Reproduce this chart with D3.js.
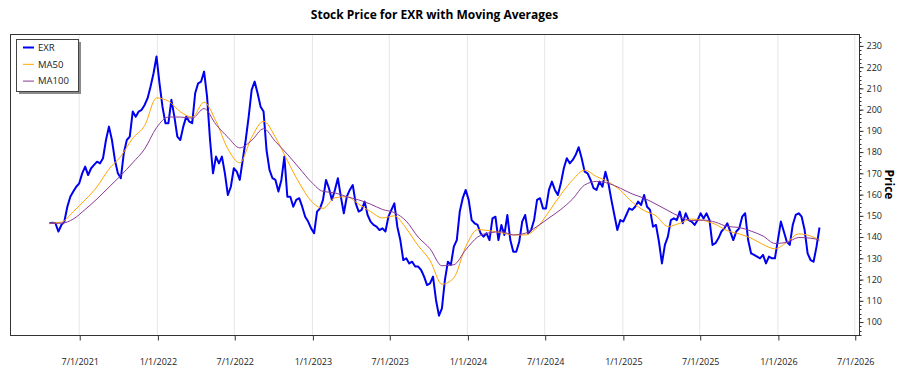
<!DOCTYPE html>
<html>
<head>
<meta charset="utf-8">
<script src="https://cdn.jsdelivr.net/npm/d3@7"></script>
<style>
  body { margin: 0; background: #fff; }
  svg text { font-family: "Open Sans", "Noto Sans", sans-serif; }
</style>
</head>
<body>
<div id="chart"></div>
<script>
// --- data ---
const ticker = 'EXR';
const seriesNames = ['EXR', 'MA50', 'MA100'];
const firstWeek = '2021-04-22';   // weekly closes start here

const closeWeekly = [
  146.5, 146.8, 146.5, 142.6, 145.7, 147.3, 154.3, 159, 161.4, 163.7,
  165.3, 170, 173.2, 169.2, 172.4, 174, 175.5, 174.7, 177.1, 185.7,
  192, 185.7, 176.3, 170, 167.7, 179.5, 185.7, 187.3, 199.1, 196.7,
  199.1, 199.9, 202.2, 205.4, 210.9, 217.1, 225, 212.4, 201.4, 193.6,
  193.6, 204.6, 196.7, 187.3, 185.7, 192, 196.7, 194.4, 193.6, 207.7,
  212.4, 213.2, 217.9, 206.1, 185.7, 170, 177.9, 174.7, 177.9, 170,
  159.8, 163.7, 172.4, 170.8, 166.9, 176.3, 185.7, 196.7, 209.3, 213.2,
  207.7, 201.4, 199.1, 181, 171.6, 167.7, 166.9, 161.4, 166.9, 177.9,
  159, 159, 154.3, 157.5, 158.3, 154.3, 149.6, 147.3, 144.1, 141.8,
  152, 153.5, 157.5, 166.9, 163, 157.5, 162.2, 167.7, 159, 151.2,
  159, 162.2, 164.5, 155.9, 152, 152.8, 156.7, 150.4, 147.3, 145.7,
  144.9, 143.3, 144.1, 142.6, 149.6, 152.8, 155.9, 144.9, 138.6, 129.2,
  130, 127.6, 128.4, 126.1, 126.1, 124.5, 121.4, 117.4, 118.2, 121.4,
  110.4, 103, 106.4, 119.8, 128.4, 126.9, 135.5, 138.6, 152, 158.3,
  162.2, 157.5, 148, 146.5, 145.7, 141.8, 140.2, 141.8, 138.6, 148.8,
  149.6, 138.6, 145.7, 141, 150.4, 138.6, 133.1, 133.1, 137.8, 147.3,
  150.4, 141.8, 143.3, 148, 157.5, 158.3, 153.5, 153.5, 162.2, 166.1,
  162.2, 159.8, 165.3, 172.4, 177.1, 174.7, 176.3, 178.7, 182.3, 177.1,
  170.8, 170, 166.9, 163, 162.2, 166.1, 163.7, 170.8, 165.3, 157.5,
  150.4, 143.3, 148, 147.3, 150.4, 153.5, 152.8, 154.3, 156.7, 155.1,
  159.8, 154.3, 152.8, 144.9, 145.7, 137.8, 127.6, 136.3, 140.2, 148,
  148.8, 148, 152, 146.5, 151.2, 148, 147.3, 145.7, 148, 151.2,
  148.8, 151.2, 148, 136.3, 137.1, 139.4, 142.6, 144.1, 146.5, 142.6,
  138.6, 142.6, 144.1, 149.6, 151.2, 138.6, 132.3, 131.6, 130.8, 130,
  131.6, 127.6, 130.8, 130, 130, 138.6, 147.3, 142.6, 137.8, 136.3,
  145.7, 150.4, 151.2, 149.6, 143.3, 132.3, 129.2, 128.4, 135.5, 144.5
];

// moving averages, read every 4th week (plus the last week)
const maWeeks = d3.range(0, 257, 4).concat([259]);
const ma50Values = [
  146.5, 147, 152, 157.5, 163.7, 172, 178, 186.5, 192.5, 205.5,
  204, 199, 196.5, 203.5, 194.5, 181.5, 175, 187, 194.5, 187,
  176, 165.5, 157, 153.5, 158.5, 159, 155.5, 152, 149, 150,
  144, 136, 129, 117.8, 120.8, 135.5, 143.5, 143, 142, 141,
  141, 144.5, 152, 160, 167, 171.5, 168.5, 166, 162, 156.5,
  152.5, 150, 145, 146.5, 148.5, 147.8, 146, 143, 141.5, 139.5,
  136.5, 134.5, 137.5, 141.5, 140.5, 138.5
];
const ma100Values = [
  146.5, 146.5, 148.5, 153, 158, 163.5, 169, 175, 181.5, 191.5,
  196.5, 196.5, 196, 200.5, 193, 187, 182, 185.5, 191, 185,
  179, 172.5, 166, 161.5, 160.8, 159, 157.5, 155.5, 153, 151.5,
  147.5, 140, 134.5, 126.5, 127, 134, 140, 142, 142.5, 141,
  141.8, 145, 149, 153, 158, 164.5, 166.2, 165.3, 163, 160.3,
  158.3, 155.5, 152.5, 149.6, 147.8, 148, 147, 145, 144.5, 142.8,
  140.5, 137, 137.5, 139.8, 139.5, 138.6
];

const xDomain = ['2021-01-19', '2026-07-11'];
const xTickDates = ['2021-07-01', '2022-01-01', '2022-07-01', '2023-01-01', '2023-07-01',
  '2024-01-01', '2024-07-01', '2025-01-01', '2025-07-01', '2026-01-01', '2026-07-01'];
const yDomain = [93.9, 235.6];
const yTickValues = d3.range(100, 231, 10);
const yMinorValues = d3.range(94, 236, 2);

// --- layout ---
const width = 900, height = 375;
const margin = { top: 34, right: 41, bottom: 40, left: 10 };
const plotW = width - margin.left - margin.right;
const plotH = height - margin.top - margin.bottom;

const parse = d3.timeParse('%Y-%m-%d');
const day0 = parse(firstWeek);
const weekDate = i => d3.timeDay.offset(day0, i * 7);

const priceData = closeWeekly.map((v, i) => ({ date: weekDate(i), value: v }));
const ma50Data = maWeeks.map((w, i) => ({ date: weekDate(w), value: ma50Values[i] }));
const ma100Data = maWeeks.map((w, i) => ({ date: weekDate(w), value: ma100Values[i] }));

const svg = d3.select('#chart').append('svg')
  .attr('width', width)
  .attr('height', height);

const x = d3.scaleTime()
  .domain(xDomain.map(parse))
  .range([margin.left, margin.left + plotW]);

const y = d3.scaleLinear()
  .domain(yDomain)
  .range([margin.top + plotH, margin.top]);

// title
svg.append('text')
  .attr('x', margin.left + plotW / 2)
  .attr('y', 19)
  .attr('text-anchor', 'middle')
  .style('font-size', '12px')
  .style('font-weight', 'bold')
  .text(`Stock Price for ${ticker} with Moving Averages`);

// vertical grid lines
svg.append('g').selectAll('line')
  .data(xTickDates.map(parse))
  .join('line')
  .attr('x1', d => x(d)).attr('x2', d => x(d))
  .attr('y1', margin.top).attr('y2', margin.top + plotH)
  .attr('stroke', '#e6e6e6')
  .attr('stroke-width', 1);

// series
const line = d3.line().x(d => x(d.date)).y(d => y(d.value));
const smooth = d3.line().x(d => x(d.date)).y(d => y(d.value)).curve(d3.curveMonotoneX);

svg.append('clipPath').attr('id', 'plotclip')
  .append('rect')
  .attr('x', margin.left).attr('y', margin.top)
  .attr('width', plotW).attr('height', plotH);

const lines = svg.append('g').attr('clip-path', 'url(#plotclip)');

lines.append('path')
  .datum(priceData)
  .attr('d', line)
  .attr('fill', 'none')
  .attr('stroke', '#0000f0')
  .attr('stroke-width', 2)
  .attr('stroke-linejoin', 'round');

lines.append('path')
  .datum(ma50Data)
  .attr('d', smooth)
  .attr('fill', 'none')
  .attr('stroke', '#ffa500')
  .attr('stroke-width', 1);

lines.append('path')
  .datum(ma100Data)
  .attr('d', smooth)
  .attr('fill', 'none')
  .attr('stroke', '#8a3a98')
  .attr('stroke-width', 1);

// plot frame
svg.append('rect')
  .attr('x', margin.left + 0.5).attr('y', margin.top + 0.5)
  .attr('width', plotW).attr('height', plotH)
  .attr('fill', 'none')
  .attr('stroke', '#333')
  .attr('stroke-width', 1);

// bottom axis
const xAxis = d3.axisBottom(x)
  .tickValues(xTickDates.map(parse))
  .tickFormat(d3.timeFormat('%-m/%-d/%Y'))
  .tickSize(5)
  .tickPadding(18);

const gx = svg.append('g')
  .attr('transform', `translate(0.5,${margin.top + plotH + 0.5})`)
  .call(xAxis);
gx.select('.domain').remove();
gx.selectAll('line').attr('stroke', '#333');
gx.selectAll('text').style('font-size', '9px').attr('fill', '#222');

// right axis with minor ticks
const rightX = margin.left + plotW + 0.5;
svg.append('g')
  .selectAll('line')
  .data(yMinorValues)
  .join('line')
  .attr('x1', rightX).attr('x2', rightX + 2)
  .attr('y1', d => Math.round(y(d)) + 0.5).attr('y2', d => Math.round(y(d)) + 0.5)
  .attr('stroke', '#333');

const yAxis = d3.axisRight(y)
  .tickValues(yTickValues)
  .tickSize(4)
  .tickPadding(3);

const gy = svg.append('g')
  .attr('transform', `translate(${rightX},0)`)
  .call(yAxis);
gy.select('.domain').remove();
gy.selectAll('line').attr('stroke', '#333');
gy.selectAll('text').style('font-size', '9px').attr('fill', '#222');

svg.append('text')
  .attr('transform', `translate(889,${margin.top + plotH / 2}) rotate(90)`)
  .attr('text-anchor', 'middle')
  .attr('dy', '0.35em')
  .style('font-size', '12px')
  .style('font-weight', 'bold')
  .text('Price');

// legend
const legendColors = ['#0000f0', '#ffa500', '#8a3a98'];
const legendWidths = [2, 1, 1];
const legend = svg.append('g');
legend.append('rect')
  .attr('x', 19).attr('y', 42)
  .attr('width', 62).attr('height', 52)
  .attr('fill', '#8a8a8a');
legend.append('rect')
  .attr('x', 16.5).attr('y', 39.5)
  .attr('width', 62).attr('height', 52)
  .attr('fill', '#fff')
  .attr('stroke', '#444');

const rows = legend.selectAll('g.row')
  .data(seriesNames)
  .join('g')
  .attr('class', 'row')
  .attr('transform', (d, i) => `translate(0,${47.5 + i * 16.8})`);

rows.append('line')
  .attr('x1', 23).attr('x2', 34)
  .attr('stroke', (d, i) => legendColors[i])
  .attr('stroke-width', (d, i) => legendWidths[i]);

rows.append('text')
  .attr('x', 38)
  .attr('dy', '0.35em')
  .style('font-size', '9.5px')
  .attr('fill', '#222')
  .text(d => d);
</script>
</body>
</html>
